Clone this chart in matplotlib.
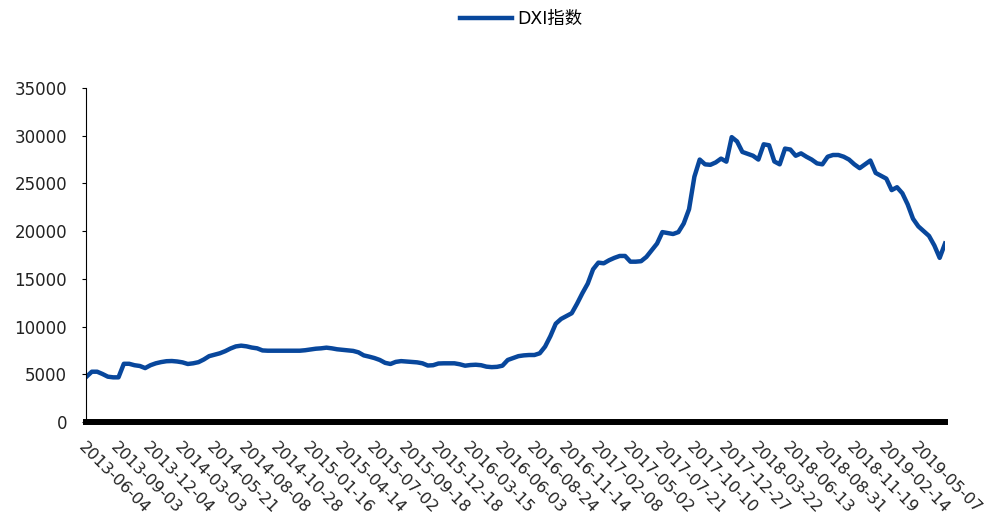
import matplotlib
matplotlib.use("Agg")
import matplotlib.pyplot as plt
import numpy as np

# DXI index, sampled every 10 trading days
dxi = [4750, 5270, 5270, 5030, 4750, 4680, 4680, 6100, 6100, 5950,
       5870, 5650, 5950, 6150, 6280, 6370, 6390, 6340, 6250, 6080,
       6150, 6270, 6550, 6900, 7050, 7200, 7420, 7700, 7920, 8000,
       7930, 7800, 7720, 7500, 7470, 7470, 7470, 7470, 7470, 7470,
       7470, 7520, 7600, 7680, 7720, 7790, 7720, 7620, 7560, 7500,
       7450, 7300, 6980, 6850, 6700, 6500, 6200, 6080, 6300, 6380,
       6340, 6300, 6250, 6150, 5920, 5950, 6130, 6150, 6150, 6150,
       6050, 5900, 5970, 6000, 5950, 5800, 5750, 5780, 5900, 6500,
       6700, 6900, 6980, 7020, 7020, 7200, 7900, 9000, 10300, 10800,
       11100, 11400, 12400, 13500, 14500, 16000, 16700, 16630, 16950, 17200,
       17400, 17400, 16800, 16800, 16850, 17300, 18000, 18700, 19900, 19800,
       19700, 19900, 20800, 22300, 25700, 27500, 27000, 26950, 27200, 27600,
       27280, 29850, 29400, 28300, 28100, 27900, 27500, 29100, 29000, 27300,
       27000, 28650, 28550, 27900, 28150, 27800, 27500, 27100, 27000, 27800,
       27980, 27980, 27800, 27500, 27000, 26600, 27000, 27400, 26100, 25800,
       25500, 24300, 24600, 23970, 22800, 21300, 20500, 20000, 19500, 18500,
       17200, 18700]

# category labels, one every 60 trading days
dates = ['2013-06-04', '2013-09-03', '2013-12-04', '2014-03-03', '2014-05-21',
         '2014-08-08', '2014-10-28', '2015-01-16', '2015-04-14', '2015-07-02',
         '2015-09-18', '2015-12-18', '2016-03-15', '2016-06-03', '2016-08-24',
         '2016-11-14', '2017-02-08', '2017-05-02', '2017-07-21', '2017-10-10',
         '2017-12-27', '2018-03-22', '2018-06-13', '2018-08-31', '2018-11-19',
         '2019-02-14', '2019-05-07']
label_step = 6

fig = plt.figure(figsize=(10.03, 5.22), dpi=100)
ax = fig.add_axes([86.5 / 1003, 100 / 522, (945 - 86.5) / 1003, 334 / 522])

x = np.arange(len(dxi))
ax.plot(x, dxi, color='#08479c', lw=3.2, label='DXI指数', solid_joinstyle='round')

ax.set_xlim(0, len(dxi) - 1)
ax.set_ylim(0, 35000)
ax.set_yticks(np.arange(0, 35001, 5000))
ax.set_xticks(np.arange(0, len(dates) * label_step, label_step))
ax.set_xticklabels(dates, rotation=-45, ha='left', va='top',
                   rotation_mode='anchor', fontsize=11.6)

for side in ['top', 'right']:
    ax.spines[side].set_visible(False)
ax.spines['left'].set_linewidth(0.8)
ax.spines['bottom'].set_linewidth(4.3)
ax.tick_params(axis='y', length=3, width=0.8, pad=11, labelsize=12,
               labelcolor='#222222')
ax.tick_params(axis='x', length=0, pad=12.5, labelcolor='#222222')

fig.legend(loc='center', bbox_to_anchor=(521 / 1003, 1 - 19 / 522),
           frameon=False, handlelength=3.0, handletextpad=0.3,
           prop={'family': ['DejaVu Sans', 'Noto Sans CJK SC'], 'size': 12.5})

fig.savefig('out.png', dpi=100)
